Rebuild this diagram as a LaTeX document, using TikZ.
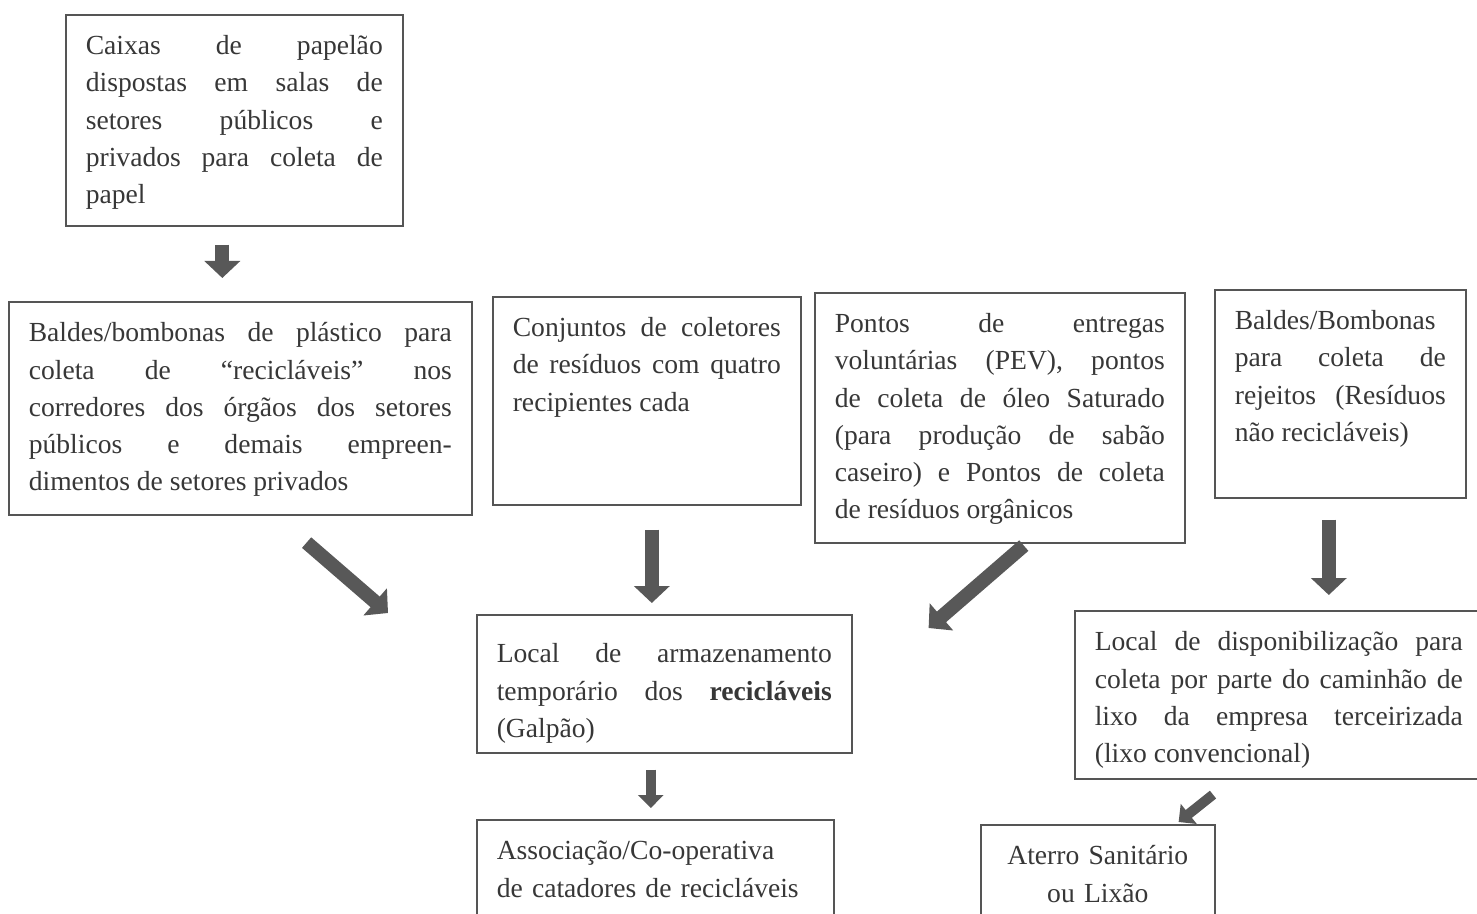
\documentclass[tikz,border=0pt]{standalone}
\usepackage{fontspec}
\setmainfont{Liberation Serif}
\usetikzlibrary{arrows.meta,calc}
\definecolor{tinta}{RGB}{55,55,55}
\definecolor{moldura}{RGB}{85,85,85}
\definecolor{chumbo}{RGB}{88,88,88}
\hyphenpenalty=10000
\exhyphenpenalty=10000
\tikzset{
  caixa/.style={draw=moldura, line width=0.8pt, anchor=north west, inner xsep=10pt, inner ysep=5pt,
                text width=#1, align=justify, text height=15pt, text=tinta,
                font=\fontsize{13.8}{18.6}\selectfont},
  seta/.style={draw=chumbo, line width=7pt, -{Triangle[width=17.5pt,length=8.5pt]}},
  setinha/.style={draw=chumbo, line width=5pt, -{Triangle[width=12.5pt,length=6.5pt]}}
}
\begin{document}
\begin{tikzpicture}[x=0.5pt,y=-0.5pt]
  \useasboundingbox (0,0) rectangle (1477,914);
  \node[caixa=148.5pt, text depth=80.5pt] (caixas)      at (65,14)   {Caixas de papelão\linebreak dispostas em salas de\linebreak setores públicos e\linebreak privados para coleta de\linebreak papel};
  \node[caixa=211.5pt, text depth=81.5pt] (baldesplast) at (8,301)   {Baldes/bombonas de plástico para\linebreak coleta de “recicláveis” nos\linebreak corredores dos órgãos dos setores\linebreak públicos e demais empreen-\linebreak dimentos de setores privados};
  \node[caixa=134pt,   text depth=79pt]   (conjuntos)   at (492,296) {Conjuntos de coletores\linebreak de resíduos com quatro\linebreak recipientes cada};
  \node[caixa=165pt,   text depth=100pt]  (pev)         at (814,292) {Pontos de entregas\linebreak voluntárias (PEV), pontos\linebreak de coleta de óleo Saturado\linebreak (para produção de sabão\linebreak caseiro) e Pontos de coleta\linebreak de resíduos orgânicos};
  \node[caixa=105.5pt, text depth=79pt]   (rejeitos)    at (1214,289) {Baldes/Bombonas\linebreak para coleta de\linebreak rejeitos (Resíduos\linebreak não recicláveis)};
  \node[caixa=167.5pt, text height=19pt, text depth=40pt] (galpao) at (476,614) {Local de armazenamento\linebreak temporário dos \textbf{recicláveis}\linebreak (Galpão)};
  \node[caixa=184pt,   text depth=59pt]   (caminhao)    at (1074,610) {Local de disponibilização para\linebreak coleta por parte do caminhão de\linebreak lixo da empresa terceirizada\linebreak (lixo convencional)};
  \node[caixa=158.5pt, text depth=35.5pt, align=left]   (cooperativa) at (476,819) {Associação/Co-operativa\\ de catadores de recicláveis};
  \node[caixa=97pt,    text depth=35.5pt, align=center] (aterro)      at (980,824) {Aterro Sanitário\\ ou Lixão};

  \draw[seta]    ($(caixas.south)+(-12,18)$)            -- ($(baldesplast.north)+(-18,-23)$);
  \draw[seta]    ($(baldesplast.south east)+(-166,27)$) -- ($(galpao.north west)+(-88,-1)$);
  \draw[seta]    ($(conjuntos.south)+(5,24)$)           -- ($(galpao.north)+(-12.5,-11)$);
  \draw[seta]    ($(pev.south)+(24,2)$)                 -- ($(galpao.north east)+(76,14)$);
  \draw[seta]    ($(rejeitos.south)+(-11.5,21)$)        -- ($(caminhao.north)+(50,-15)$);
  \draw[setinha] ($(galpao.south)+(-13.5,16)$)          -- ($(cooperativa.north)+(-4.5,-11)$);
  \draw[setinha] ($(caminhao.south west)+(139,15)$)     -- ($(aterro.north east)+(-37,-2)$);
\end{tikzpicture}
\end{document}
